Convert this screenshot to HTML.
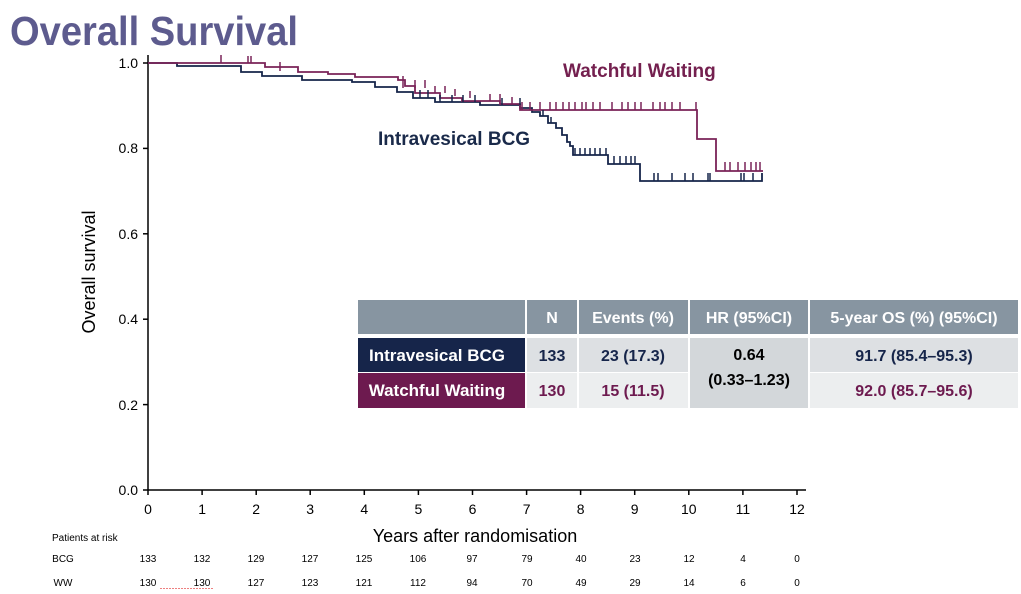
<!DOCTYPE html>
<html><head><meta charset="utf-8"><style>
body{margin:0;background:#fff;width:1021px;height:589px;overflow:hidden;font-family:"Liberation Sans",sans-serif}
</style></head><body>
<svg width="1021" height="589" xmlns="http://www.w3.org/2000/svg" font-family="Liberation Sans, sans-serif">
<text x="10" y="45" font-size="41" font-weight="bold" fill="#5d5b8e" textLength="288" lengthAdjust="spacingAndGlyphs">Overall Survival</text>
<!-- axes -->
<line x1="148" y1="55" x2="148" y2="490" stroke="#000" stroke-width="1.5"/>
<line x1="148" y1="490" x2="806" y2="490" stroke="#000" stroke-width="1.5"/>
<g stroke="#000" stroke-width="1.5">
<line x1="143" y1="63" x2="148" y2="63"/><line x1="143" y1="148.4" x2="148" y2="148.4"/><line x1="143" y1="233.8" x2="148" y2="233.8"/><line x1="143" y1="319.2" x2="148" y2="319.2"/><line x1="143" y1="404.6" x2="148" y2="404.6"/><line x1="143" y1="490" x2="148" y2="490"/>
</g>
<g font-size="14" text-anchor="end" fill="#000">
<text x="138" y="68">1.0</text><text x="138" y="153">0.8</text><text x="138" y="239">0.6</text><text x="138" y="324">0.4</text><text x="138" y="410">0.2</text><text x="138" y="495">0.0</text>
</g>
<g stroke="#000" stroke-width="1.5">
<line x1="148" y1="490" x2="148" y2="495"/><line x1="202.1" y1="490" x2="202.1" y2="495"/><line x1="256.2" y1="490" x2="256.2" y2="495"/><line x1="310.2" y1="490" x2="310.2" y2="495"/><line x1="364.3" y1="490" x2="364.3" y2="495"/><line x1="418.4" y1="490" x2="418.4" y2="495"/><line x1="472.5" y1="490" x2="472.5" y2="495"/><line x1="526.6" y1="490" x2="526.6" y2="495"/><line x1="580.6" y1="490" x2="580.6" y2="495"/><line x1="634.7" y1="490" x2="634.7" y2="495"/><line x1="688.8" y1="490" x2="688.8" y2="495"/><line x1="742.9" y1="490" x2="742.9" y2="495"/><line x1="797" y1="490" x2="797" y2="495"/>
</g>
<g font-size="14" text-anchor="middle">
<text x="148" y="514">0</text><text x="202.1" y="514">1</text><text x="256.2" y="514">2</text><text x="310.2" y="514">3</text><text x="364.3" y="514">4</text><text x="418.4" y="514">5</text><text x="472.5" y="514">6</text><text x="526.6" y="514">7</text><text x="580.6" y="514">8</text><text x="634.7" y="514">9</text><text x="688.8" y="514">10</text><text x="742.9" y="514">11</text><text x="797" y="514">12</text>
</g>
<text x="475" y="542" font-size="18" text-anchor="middle">Years after randomisation</text>
<text transform="translate(95,272) rotate(-90)" font-size="18" text-anchor="middle">Overall survival</text>
<!-- curves -->
<polyline fill="none" stroke="#16254a" stroke-width="1.8" points="148,63 177,63 177,66 241,66 241,72 262,72 262,76 302,76 302,80 352,80 352,82 375,82 375,87 397,87 397,92 413,92 413,98 435,98 435,102 480,102 480,105 520,105 520,108 532,108 532,112 540,112 540,116 548,116 548,123 556,123 556,128 562,128 562,135 567,135 567,142 570,142 570,146 573,146 573,155 608,155 608,164 640,164 640,181 762,181 762,173"/>
<polyline fill="none" stroke="#7a2358" stroke-width="1.8" points="148,63 265,63 265,67 298,67 298,72 328,72 328,74 355,74 355,77 398,77 398,80 405,80 405,86 415,86 415,93 440,93 440,98 462,98 462,101 500,101 500,104 520,104 520,110 697,110 697,139 716,139 716,171 763,171"/>
<g stroke="#7a2358" stroke-width="1.5">
<path d="M221,55v8M248,56v7M251,56v7M280,62v9M403,76v12M415,88v-8M425,88v-8M435,93v-7M445,93v-7M455,96v-7M470,98v-7M490,101v-7M500,101v-7M512,104v-7M522,110v-8M530,110v-8M540,110v-8M550,110v-8M556,110v-8M563,110v-8M569,110v-8M575,110v-8M582,110v-8M586,110v-8M593,110v-8M600,110v-8M612,110v-8M622,110v-8M628,110v-8M635,110v-8M641,110v-8M653,110v-8M660,110v-8M665,110v-8M672,110v-8M680,110v-8M696,110v-8M725,171v-9M730,171v-9M738,171v-9M745,171v-9M751,171v-9M756,171v-9M760,171v-9"/>
</g>
<g stroke="#16254a" stroke-width="1.5">
<path d="M420,98v-8M428,98v-8M440,102v-7M452,102v-7M463,102v-7M475,102v-7M502,105v-7M520,105v-7M543,116v-6M551,123v-6M575,155v-7M580,155v-7M585,155v-7M590,155v-7M595,155v-7M600,155v-7M606,155v-7M614,164v-8M620,164v-8M626,164v-8M631,164v-8M635,164v-8M654,181v-8M658,181v-8M672,181v-8M685,181v-8M693,181v-8M708,181v-8M710,181v-8M741,181v-8M744,181v-8M753,181v-8"/>
</g>
<text x="563" y="77" font-size="19" font-weight="bold" fill="#74204f">Watchful Waiting</text>
<text x="378" y="145" font-size="19" font-weight="bold" fill="#1a2a4a">Intravesical BCG</text>
<!-- table -->
<g>
<rect x="358" y="300" width="167" height="34" fill="#8795a1"/>
<rect x="527" y="300" width="50" height="34" fill="#8795a1"/>
<rect x="579" y="300" width="109" height="34" fill="#8795a1"/>
<rect x="690" y="300" width="118" height="34" fill="#8795a1"/>
<rect x="810" y="300" width="208" height="34" fill="#8795a1"/>
<rect x="358" y="338" width="167" height="34" fill="#16254a"/>
<rect x="358" y="373" width="167" height="35" fill="#6d1a4f"/>
<rect x="527" y="338" width="50" height="34" fill="#dde0e3"/>
<rect x="527" y="373" width="50" height="35" fill="#eceeef"/>
<rect x="579" y="338" width="109" height="34" fill="#dde0e3"/>
<rect x="579" y="373" width="109" height="35" fill="#eceeef"/>
<rect x="690" y="338" width="118" height="70" fill="#d3d7da"/>
<rect x="810" y="338" width="208" height="34" fill="#dde0e3"/>
<rect x="810" y="373" width="208" height="35" fill="#eceeef"/>
</g>
<g font-size="16" font-weight="bold" text-anchor="middle" fill="#fff">
<text x="552" y="323">N</text><text x="633" y="323">Events (%)</text><text x="749" y="323">HR (95%CI)</text><text x="914" y="323">5-year OS (%) (95%CI)</text>
<text x="437" y="361" font-size="17">Intravesical BCG</text>
<text x="437" y="396" font-size="17">Watchful Waiting</text>
</g>
<g font-size="16" font-weight="bold" text-anchor="middle">
<text x="552" y="361" fill="#16254a">133</text><text x="633" y="361" fill="#16254a">23 (17.3)</text><text x="914" y="361" fill="#16254a">91.7 (85.4–95.3)</text>
<text x="552" y="396" fill="#6d1a4f">130</text><text x="633" y="396" fill="#6d1a4f">15 (11.5)</text><text x="914" y="396" fill="#6d1a4f">92.0 (85.7–95.6)</text>
<text x="749" y="360" fill="#000">0.64</text><text x="749" y="385" fill="#000">(0.33–1.23)</text>
</g>
<!-- risk table -->
<text x="52" y="541" font-size="10">Patients at risk</text>
<g font-size="10" text-anchor="middle">
<text x="63" y="562">BCG</text><text x="148" y="562">133</text><text x="202" y="562">132</text><text x="256" y="562">129</text><text x="310" y="562">127</text><text x="364" y="562">125</text><text x="418" y="562">106</text><text x="472" y="562">97</text><text x="527" y="562">79</text><text x="581" y="562">40</text><text x="635" y="562">23</text><text x="689" y="562">12</text><text x="743" y="562">4</text><text x="797" y="562">0</text>
<text x="63" y="586">WW</text><text x="148" y="586">130</text><text x="202" y="586">130</text><text x="256" y="586">127</text><text x="310" y="586">123</text><text x="364" y="586">121</text><text x="418" y="586">112</text><text x="472" y="586">94</text><text x="527" y="586">70</text><text x="581" y="586">49</text><text x="635" y="586">29</text><text x="689" y="586">14</text><text x="743" y="586">6</text><text x="797" y="586">0</text>
</g>
<line x1="160" y1="589" x2="214" y2="589" stroke="#d00" stroke-width="1" stroke-dasharray="2,1"/>
</svg>
</body></html>
